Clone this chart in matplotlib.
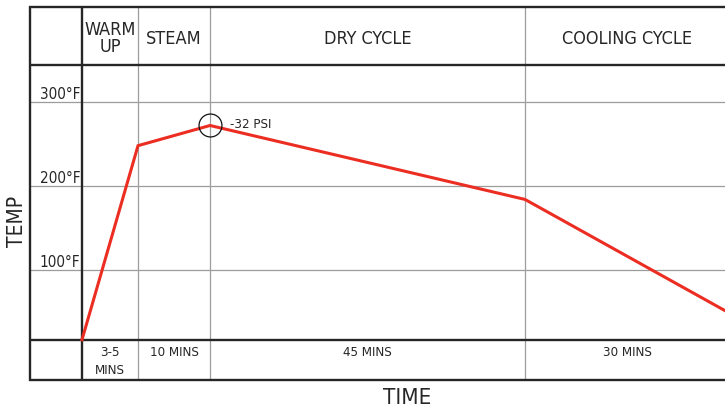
import matplotlib
matplotlib.use("Agg")
import matplotlib.pyplot as plt
from matplotlib.transforms import blended_transform_factory

# ---- data ----
phases = ["WARM\nUP", "STEAM", "DRY CYCLE", "COOLING CYCLE"]
durations = ["3-5\nMINS", "10 MINS", "45 MINS", "30 MINS"]
temp_ticks = [100, 200, 300]
temp_tick_labels = ["100°F", "200°F", "300°F"]
# temperature at each phase boundary (start, end of warm up, end of steam, end of dry, end of cooling)
boundary_temps = [17, 248, 272, 184, 49]
peak_label = "-32 PSI"
x_title = "TIME"
y_title = "TEMP"

# ---- layout (pixels) ----
W, H = 725, 411
col_widths = [56, 72, 315, 204]
left_border, label_col = 30, 82
top_y, header_y, bottom_y, footer_y = 7, 65, 340, 380
ymin, ymax = 16.7, 344.0

DARK = "#262626"
GREY = "#9c9c9c"
RED = "#ec2d22"
FONT = dict(family="DejaVu Sans", stretch="condensed")

fig = plt.figure(figsize=(W / 100, H / 100), dpi=100)
fig.patch.set_facecolor("white")

# overlay in pixel coordinates for the table frame and text
ov = fig.add_axes([0, 0, 1, 1])
ov.set_xlim(0, W)
ov.set_ylim(H, 0)
ov.axis("off")
ov.set_zorder(0)

total_w = sum(col_widths)
ax = fig.add_axes([label_col / W, (H - bottom_y) / H, total_w / W, (bottom_y - header_y) / H])
ax.set_xlim(0, total_w)
ax.set_ylim(ymin, ymax)
ax.axis("off")
ax.set_zorder(2)
ax.patch.set_visible(False)

# column boundaries
bounds = [0]
for w in col_widths:
    bounds.append(bounds[-1] + w)
bounds_px = [label_col + b for b in bounds]

# grey vertical separators
for bx in bounds_px[1:-1]:
    ov.plot([bx, bx], [top_y, footer_y], color=GREY, lw=0.9, solid_capstyle="butt")

# grey temperature gridlines (x in pixels, y in temperature)
tr = blended_transform_factory(ov.transData, ax.transData)
for t, lab in zip(temp_ticks, temp_tick_labels):
    ov.plot([left_border, W], [t, t], color=GREY, lw=0.9, transform=tr)
    ov.text(label_col - 1.5, t, lab, transform=tr, ha="right", va="bottom",
            fontsize=11, color=DARK, **FONT)

# dark frame lines
for yy in [top_y, header_y, bottom_y, footer_y]:
    ov.plot([left_border - 1, W], [yy, yy], color=DARK, lw=1.7, solid_capstyle="butt")
for xx in [left_border, label_col]:
    ov.plot([xx, xx], [top_y - 1, footer_y + 1], color=DARK, lw=1.7, solid_capstyle="butt")

# header and footer text
for i, (ph, du) in enumerate(zip(phases, durations)):
    cx = (bounds_px[i] + bounds_px[i + 1]) / 2
    ov.text(cx, 38.5, ph, ha="center", va="center", fontsize=13, color=DARK,
            linespacing=0.95, **FONT)
    ov.text(cx, 346, du, ha="center", va="top", fontsize=9.5, color=DARK,
            linespacing=1.45, **FONT)

# axis titles
ov.text((left_border + W) / 2 + 30, 398, x_title, ha="center", va="center",
        fontsize=16, color=DARK, **FONT)
ov.text(17, 221.5, y_title, ha="center", va="center", rotation=90,
        fontsize=15, color=DARK, **FONT)

# temperature line
ax.plot(bounds, boundary_temps, color=RED, lw=2.2, solid_joinstyle="miter",
        clip_on=False, zorder=3)

# circle marker at peak and label
peak_i = boundary_temps.index(max(boundary_temps))
ax.plot([bounds[peak_i]], [boundary_temps[peak_i]], marker="o", ms=16.5,
        mfc="none", mec="#111111", mew=0.9, zorder=4)
ax.annotate(peak_label, (bounds[peak_i], boundary_temps[peak_i]),
            xytext=(14.5, 1), textcoords="offset points", ha="left", va="center",
            fontsize=9.5, color=DARK, **FONT)

fig.savefig("out.png", dpi=100)
